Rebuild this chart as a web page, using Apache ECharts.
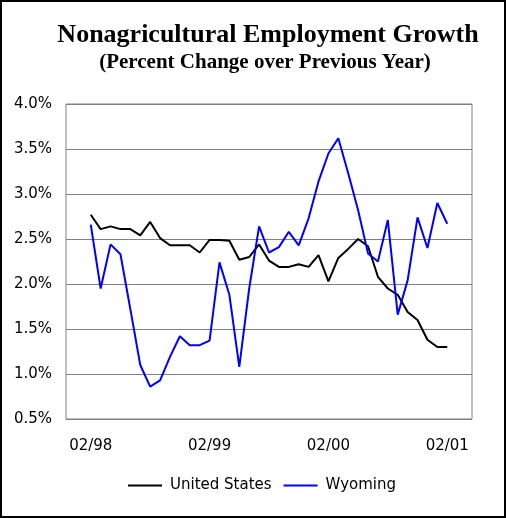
<!DOCTYPE html>
<html>
<head>
<meta charset="utf-8">
<script src="https://cdn.jsdelivr.net/npm/echarts@6/dist/echarts.min.js"></script>
<style>
html,body{margin:0;padding:0;background:#fff;}
#chart{position:absolute;left:0;top:0;width:506px;height:518px;}
#frame{position:absolute;left:0;top:0;width:506px;height:518px;box-sizing:border-box;border:2px solid #000;pointer-events:none;}
</style>
</head>
<body>
<div id="chart"></div>
<div id="frame"></div>
<script>
var titleText = 'Nonagricultural Employment Growth';
var subtitleText = '(Percent Change over Previous Year)';
var seriesNames = ['United States', 'Wyoming'];
var tickLabels = ['02/98', '02/99', '02/00', '02/01'];
var tickIndex = [0, 12, 24, 36];
var unitedStates = [2.77, 2.61, 2.64, 2.61, 2.61, 2.54, 2.69, 2.51, 2.43, 2.43, 2.43, 2.35, 2.49,
  2.49, 2.48, 2.27, 2.30, 2.44, 2.26, 2.19, 2.19, 2.22, 2.19, 2.32, 2.03,
  2.29, 2.39, 2.50, 2.42, 2.08, 1.95, 1.88, 1.69, 1.60, 1.38, 1.30, 1.30];
var wyoming = [2.66, 1.95, 2.44, 2.33, 1.72, 1.10, 0.86, 0.93, 1.19, 1.42, 1.32, 1.32, 1.37,
  2.24, 1.88, 1.08, 1.95, 2.64, 2.35, 2.41, 2.58, 2.43, 2.73, 3.14, 3.45,
  3.62, 3.23, 2.82, 2.34, 2.25, 2.71, 1.66, 2.04, 2.74, 2.40, 2.90, 2.67];

function toPairs(arr) { return arr.map(function (v, i) { return [i, v]; }); }

var chart = echarts.init(document.getElementById('chart'), null, {renderer: 'canvas'});
chart.setOption({
  backgroundColor: '#fff',
  animation: false,
  title: [
    {text: titleText, left: 268, top: 22, textAlign: 'center', padding: 0,
     textStyle: {fontFamily: 'Liberation Serif', fontWeight: 'bold', fontSize: 26, color: '#000'}},
    {text: subtitleText, left: 265, top: 52, textAlign: 'center', padding: 0,
     textStyle: {fontFamily: 'Liberation Serif', fontWeight: 'bold', fontSize: 21, color: '#000'}}
  ],
  grid: {left: 66, right: 34, top: 104, bottom: 99, show: true, borderColor: '#808080', borderWidth: 1, containLabel: false},
  xAxis: {
    type: 'value', min: -2.5, max: 38.5,
    axisLine: {show: false}, axisTick: {show: false}, splitLine: {show: false},
    axisLabel: {
      customValues: tickIndex,
      formatter: function (v) { var k = tickIndex.indexOf(Math.round(v)); return k >= 0 ? tickLabels[k] : ''; },
      margin: 20, fontFamily: 'DejaVu Sans', fontSize: 15, color: '#000'
    }
  },
  yAxis: {
    type: 'value', min: 0.5, max: 4.0, interval: 0.5,
    axisLine: {show: false}, axisTick: {show: false},
    splitLine: {lineStyle: {color: '#808080', width: 1}},
    axisLabel: {formatter: function (v) { return v.toFixed(1) + '%'; }, margin: 14,
      fontFamily: 'DejaVu Sans', fontSize: 15, color: '#000'}
  },
  legend: {
    left: 128, top: 478, padding: 0, itemWidth: 34, itemHeight: 2, itemGap: 12, icon: 'rect',
    textStyle: {fontFamily: 'DejaVu Sans', fontSize: 15, color: '#000', padding: [0, 0, 0, 3]},
    data: seriesNames
  },
  series: [
    {name: seriesNames[0], type: 'line', data: toPairs(unitedStates), symbol: 'none',
     lineStyle: {color: '#000', width: 2}, itemStyle: {color: '#000'}},
    {name: seriesNames[1], type: 'line', data: toPairs(wyoming), symbol: 'none',
     lineStyle: {color: '#0000ff', width: 2}, itemStyle: {color: '#0000ff'}}
  ]
});
</script>
</body>
</html>
